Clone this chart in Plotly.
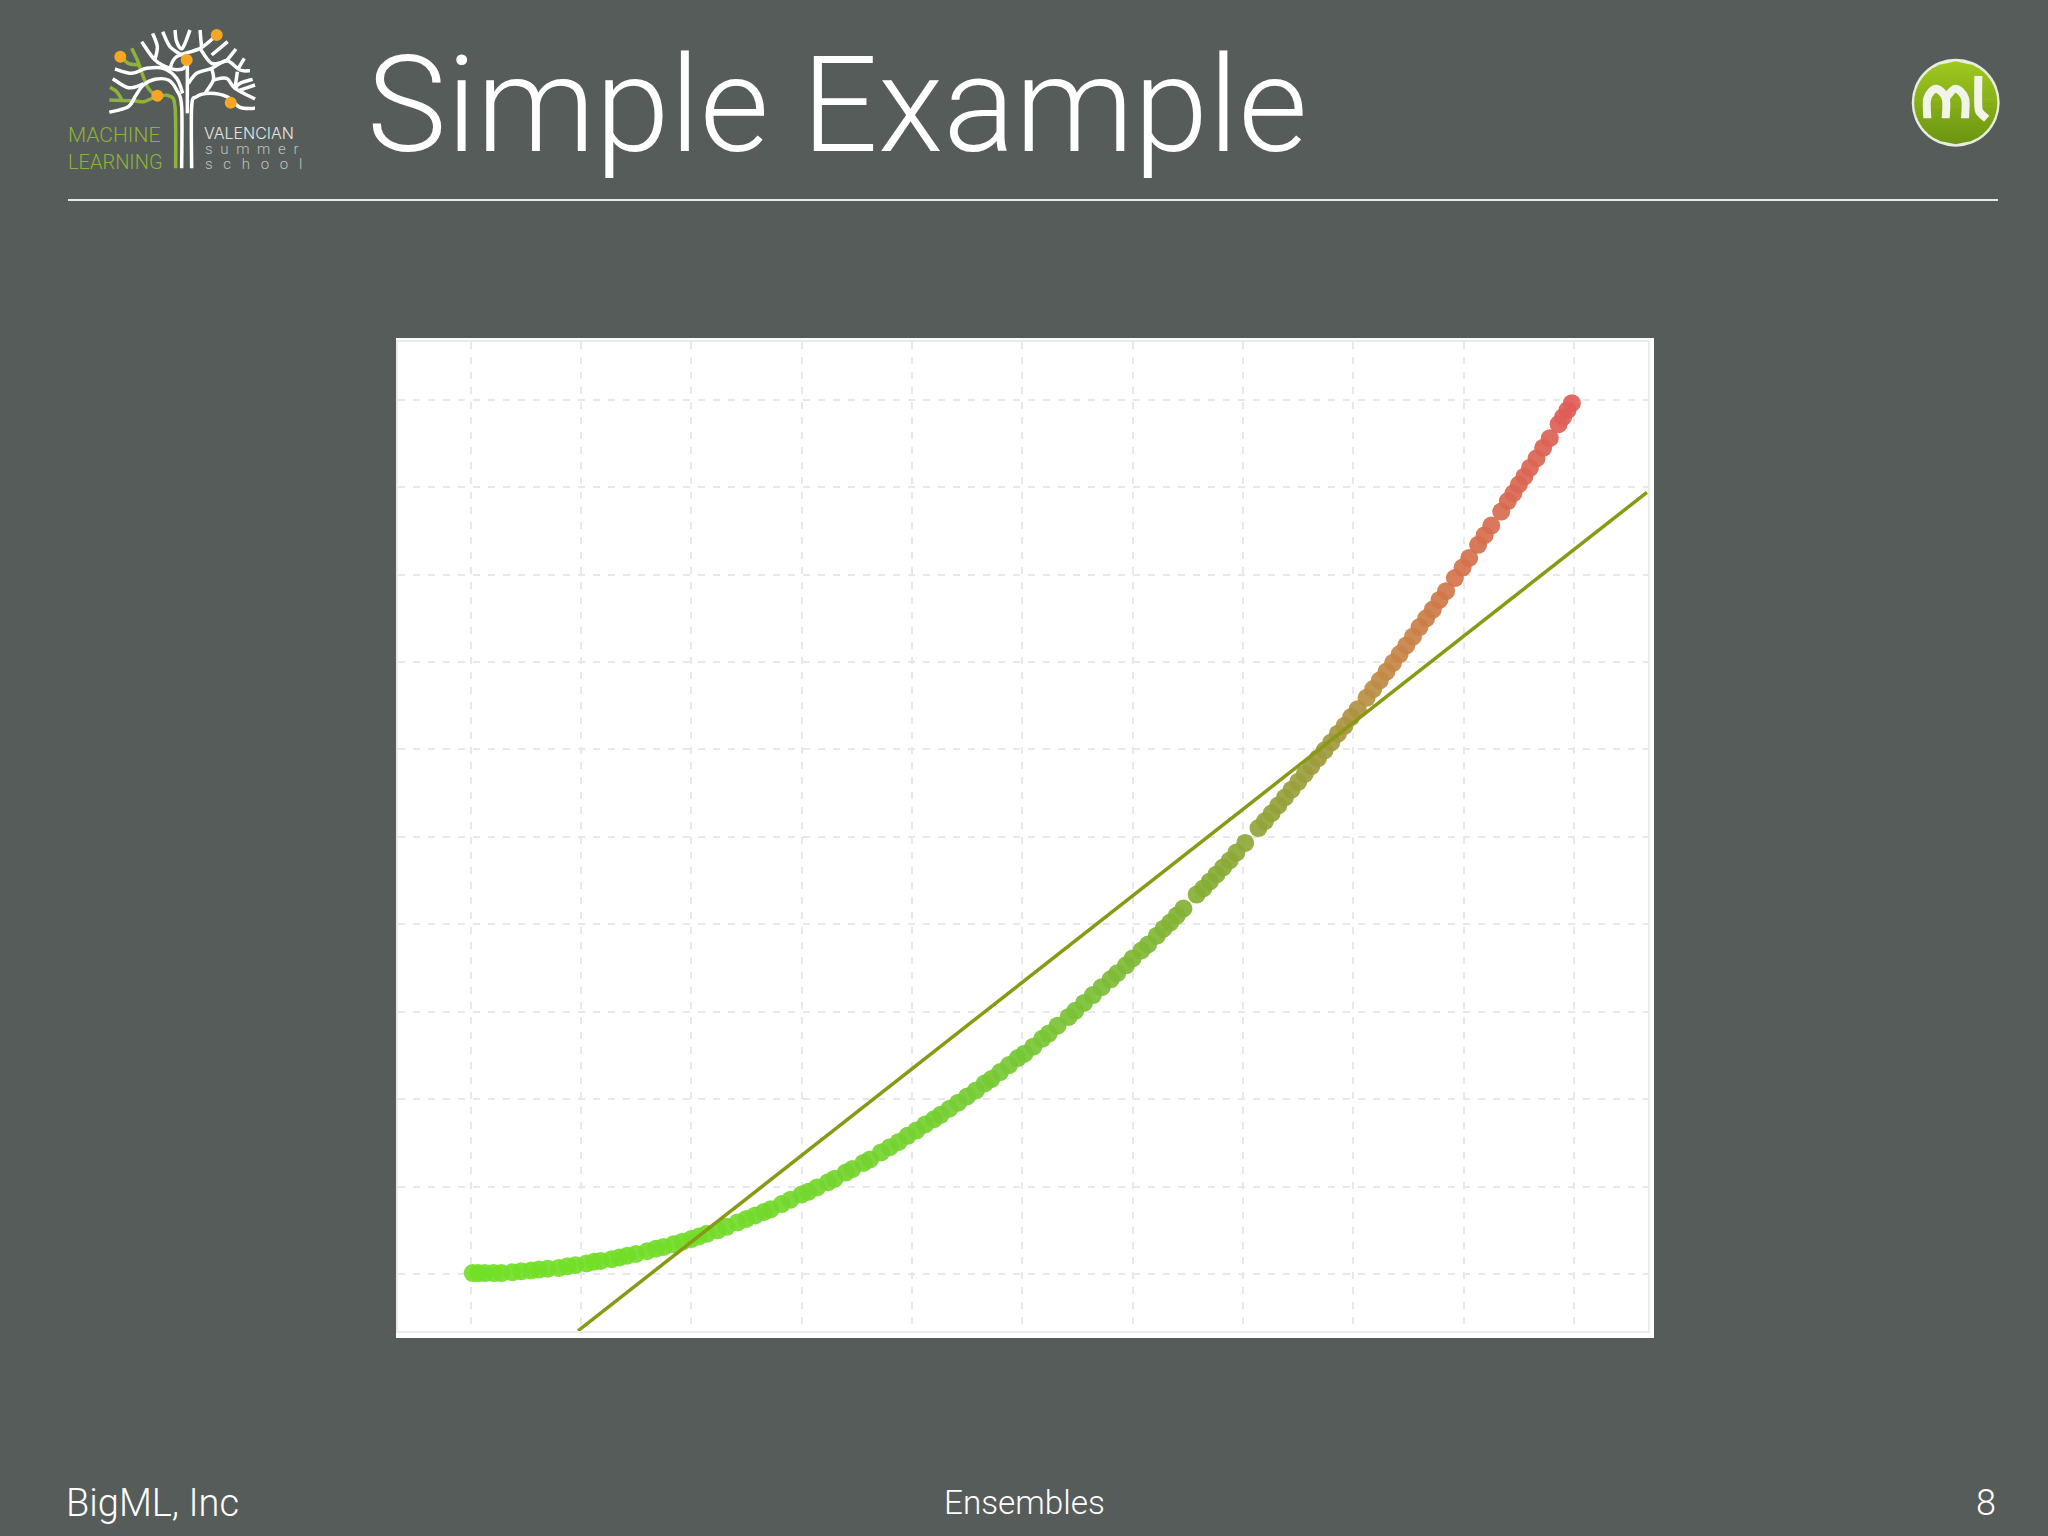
import plotly.graph_objects as go

# ---- data ----
curve_x = [0.02,0.07,0.13,0.21,0.28,0.38,0.46,0.55,0.62,0.70,0.80,0.88,0.95,1.05,1.12,1.18,1.28,1.35,1.42,1.50,
           1.60,1.68,1.75,1.84,1.92,2.00,2.07,2.14,2.24,2.32,2.42,2.50,2.58,2.66,2.72,2.82,2.90,3.00,3.06,3.14,
           3.24,3.30,3.40,3.46,3.56,3.62,3.72,3.80,3.88,3.96,4.04,4.12,4.20,4.26,4.34,4.42,4.50,4.58,4.66,4.72,
           4.80,4.88,4.96,5.02,5.10,5.18,5.24,5.32,5.42,5.48,5.56,5.64,5.72,5.80,5.86,5.94,6.00,6.08,6.14,6.22,
           6.28,6.34,6.40,6.46,6.58,6.64,6.70,6.76,6.82,6.88,6.94,7.02,7.14,7.20,7.26,7.32,7.38,7.44,7.50,7.56,
           7.62,7.68,7.74,7.80,7.86,7.92,7.98,8.04,8.12,8.18,8.24,8.30,8.36,8.42,8.48,8.54,8.60,8.66,8.72,8.78,
           8.84,8.92,8.99,9.05,9.13,9.19,9.25,9.34,9.40,9.45,9.50,9.55,9.60,9.66,9.72,9.78,9.86,9.90,9.94,9.98]
curve_y = [0.01,0.01,0.01,0.01,0.01,0.02,0.03,0.04,0.05,0.06,0.07,0.09,0.10,0.12,0.14,0.15,0.17,0.19,0.21,0.23,
           0.26,0.29,0.31,0.34,0.37,0.40,0.43,0.46,0.50,0.54,0.59,0.63,0.67,0.71,0.74,0.80,0.85,0.91,0.94,0.99,
           1.05,1.09,1.16,1.20,1.27,1.31,1.39,1.45,1.51,1.58,1.64,1.71,1.77,1.82,1.89,1.96,2.03,2.10,2.18,2.23,
           2.31,2.39,2.47,2.52,2.60,2.69,2.75,2.84,2.94,3.01,3.10,3.19,3.28,3.37,3.44,3.53,3.61,3.70,3.77,3.87,
           3.95,4.02,4.10,4.18,4.34,4.41,4.49,4.57,4.65,4.73,4.82,4.93,5.10,5.18,5.27,5.36,5.45,5.54,5.63,5.72,
           5.81,5.90,5.99,6.08,6.18,6.27,6.37,6.46,6.59,6.69,6.79,6.89,6.99,7.09,7.19,7.29,7.40,7.50,7.60,7.71,
           7.81,7.96,8.08,8.19,8.34,8.45,8.56,8.72,8.84,8.93,9.03,9.12,9.22,9.33,9.45,9.56,9.72,9.80,9.88,9.96]
fit_x = [0.974, 10.66]
fit_y = [-0.65, 8.94]
grid_vals = [0, 1, 2, 3, 4, 5, 6, 7, 8, 9, 10]

W, H = 2048, 1536
BG = "#565C5A"

def fx(p): return p / W
def fy(p): return 1 - p / H

def smooth(pts):
    """Catmull-Rom path through logo outline points (given in 3x crop pixels)."""
    P = [(x / 3, y / 3) for x, y in pts]
    d = f"M{fx(P[0][0]):.5f},{fy(P[0][1]):.5f}"
    for i in range(len(P) - 1):
        p0 = P[max(i - 1, 0)]; p1 = P[i]; p2 = P[i + 1]; p3 = P[min(i + 2, len(P) - 1)]
        c1 = (p1[0] + (p2[0] - p0[0]) / 6, p1[1] + (p2[1] - p0[1]) / 6)
        c2 = (p2[0] - (p3[0] - p1[0]) / 6, p2[1] - (p3[1] - p1[1]) / 6)
        d += f" C{fx(c1[0]):.5f},{fy(c1[1]):.5f} {fx(c2[0]):.5f},{fy(c2[1]):.5f} {fx(p2[0]):.5f},{fy(p2[1]):.5f}"
    return d

shapes = []
def paper_rect(x0, y0, x1, y1, fill):
    shapes.append(dict(type="rect", xref="paper", yref="paper", x0=fx(x0), x1=fx(x1), y0=fy(y0), y1=fy(y1),
                       fillcolor=fill, line=dict(width=0), layer="below"))
def stroke(pts, color, w):
    shapes.append(dict(type="path", xref="paper", yref="paper", path=smooth(pts),
                       line=dict(color=color, width=w), fillcolor="rgba(0,0,0,0)", layer="above"))
def dot(cx, cy, r, fill, line=None, lw=0):
    shapes.append(dict(type="circle", xref="paper", yref="paper", x0=fx(cx - r), x1=fx(cx + r),
                       y0=fy(cy + r), y1=fy(cy - r), fillcolor=fill,
                       line=dict(color=line or fill, width=lw), layer="above"))

# white panel and header rule
paper_rect(396, 338, 1654, 1338, "#FFFFFF")
paper_rect(68, 199, 1998, 201, "#E6E9E6")

# tree logo
GREEN = "#8DB33A"
WHITE = "#FFFFFF"
green_branches = [
    [(395,145),(412,180),(428,225),(445,265),(472,287),(505,287),(525,320),(527,505)],
    [(365,172),(385,190),(415,195)],
    [(330,262),(350,275),(365,298)],
    [(328,300),(400,302),(432,305),(472,287)],
]
white_branches = [
    [(545,505),(545,320),(530,270),(505,240),(465,238),(430,255),(405,290),(385,320),(328,337)],
    [(338,236),(385,263),(430,252)],
    [(345,207),(395,220),(440,205),(490,205),(530,235),(548,280)],
    [(575,505),(575,320),(590,290),(630,280),(680,290),(720,322),(765,325)],
    [(562,190),(562,340)],
    [(565,250),(590,220),(635,205),(680,182),(720,210),(750,212)],
    [(635,205),(640,240),(615,280)],
    [(640,240),(680,235),(705,265),(765,297)],
    [(705,265),(720,250),(758,238)],
    [(715,272),(765,255)],
    [(712,215),(705,265)],
    [(715,205),(733,175)],
    [(425,125),(465,180),(510,205),(545,208),(560,195)],
    [(458,100),(472,140),(465,178)],
    [(488,95),(510,140),(545,165)],
    [(525,90),(530,125),(547,145),(570,90)],
    [(510,205),(530,170),(600,145),(650,105)],
    [(600,90),(605,145)],
    [(600,145),(635,190),(680,182)],
    [(635,165),(683,125)],
    [(680,182),(708,147)],
]
for b in green_branches:
    stroke(b, GREEN, 3.5)
for b in white_branches:
    stroke(b, WHITE, 3.5)
for (cx, cy) in [(120.3, 56.7), (157.3, 95.7), (186.7, 60), (216.7, 35), (230.7, 102.7)]:
    dot(cx, cy, 6, "#F6A623")

# ml badge: white ring, then vertical gradient bands
dot(1955.7, 102.7, 44, "#E8EDE0")
cx, cy, r = 1955.7, 102.7, 41.5
n = 24
top = (160, 200, 32); bot = (108, 150, 18)
for i in range(n):
    a = -r + 2 * r * i / n
    b = -r + 2 * r * (i + 1) / n + 0.6
    b = min(b, r)
    ha = (max(r * r - a * a, 0)) ** 0.5
    hb = (max(r * r - b * b, 0)) ** 0.5
    t = i / (n - 1)
    c = tuple(int(top[k] + (bot[k] - top[k]) * t) for k in range(3))
    d = (f"M{fx(cx-ha):.5f},{fy(cy+a):.5f} L{fx(cx+ha):.5f},{fy(cy+a):.5f} "
         f"L{fx(cx+hb):.5f},{fy(cy+b):.5f} L{fx(cx-hb):.5f},{fy(cy+b):.5f} Z")
    shapes.append(dict(type="path", xref="paper", yref="paper", path=d,
                       fillcolor="rgb(%d,%d,%d)" % c, line=dict(width=0), layer="above"))
ML = "#F2F4EA"
for pts in [
    [(232,265),(232,205),(258,176),(287,205),(287,265)],
    [(287,205),(316,176),(345,205),(345,265)],
    [(385,138),(385,230),(392,250),(410,266)],
]:
    p = [(x + 5550, y + 90) for x, y in pts]
    stroke(p, ML, 8)

def text(s, x, y, size, color, anchor="left", weight=300, family="Roboto"):
    return dict(text=s, xref="paper", yref="paper", x=fx(x), y=fy(y), xanchor=anchor, yanchor="bottom",
                showarrow=False, align="left", borderpad=0,
                font=dict(size=size, color=color, family=family, weight=weight))

annotations = [
    text("Simple Example", 366, 185, 134, "#FFFFFF"),
    text("BigML, Inc", 65, 1526, 38, "#FFFFFF"),
    text("Ensembles", 943, 1523, 33.3, "#FFFFFF"),
    text("8", 1975, 1525, 36, "#FFFFFF"),
    text("MACHINE", 67, 148, 21, GREEN),
    text("LEARNING", 67, 175, 20, GREEN),
    text("VALENCIAN", 203, 144, 16, "#E4E6E4", family="Inter"),
    text("s\u2002u\u2002m\u2002m\u2002e\u2002r", 204, 159, 15, "#BFC3C1"),
    text("s\u2002\u2009c\u2002\u2009h\u2002\u2009o\u2002\u2009o\u2002\u2009l", 204, 174, 15, "#BFC3C1"),
]

fig = go.Figure()
fig.add_trace(go.Scatter(
    x=curve_x, y=curve_y, mode="markers", showlegend=False, hoverinfo="skip",
    marker=dict(size=18, color=curve_y, cmin=0, cmax=10, showscale=False, opacity=0.92, line=dict(width=0),
                colorscale=[[0, "#72DF27"], [0.25, "#76C835"], [0.45, "#86AD35"], [0.6, "#A09A3E"],
                            [0.7, "#C68745"], [0.8, "#D2734A"], [1, "#E05C58"]]),
))
fig.add_trace(go.Scatter(
    x=fit_x, y=fit_y, mode="lines", showlegend=False, hoverinfo="skip",
    line=dict(color="#889A14", width=3.5),
))

axis_common = dict(showgrid=True, gridcolor="#E9E6EC", gridwidth=2, griddash="7px,8px",
                   zeroline=False, showticklabels=False, ticks="",
                   showline=True, mirror=True, linecolor="#EBEBEC", linewidth=2,
                   tickmode="array", tickvals=grid_vals)
fig.update_layout(
    width=W, height=H, autosize=False,
    margin=dict(l=0, r=0, t=0, b=0, pad=0),
    paper_bgcolor=BG, plot_bgcolor="#FFFFFF",
    xaxis=dict(domain=[fx(398), fx(1648)], range=[-0.657, 10.67], **axis_common),
    yaxis=dict(domain=[fy(1331), fy(342)], range=[-0.652, 10.66], **axis_common),
    shapes=shapes, annotations=annotations,
)
fig.write_html("out.html", config=dict(displayModeBar=False),
               post_script="document.body.style.margin='0';")
